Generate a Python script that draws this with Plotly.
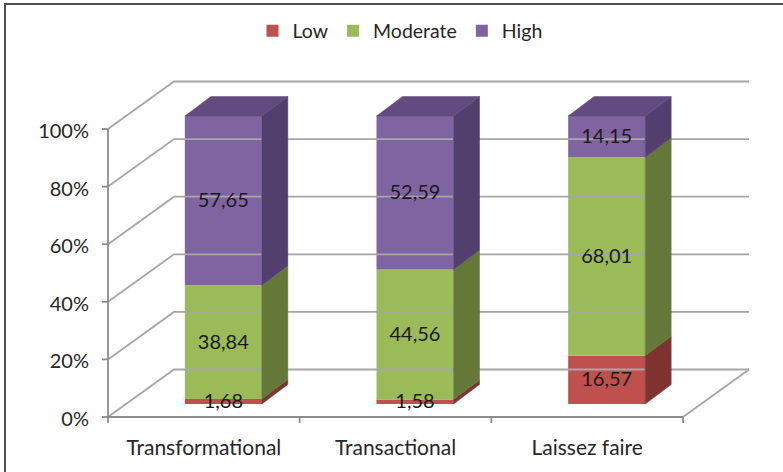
import plotly.graph_objects as go

categories = ["Transformational", "Transactional", "Laissez faire"]
series_names = ["Low", "Moderate", "High"]
low = [1.68, 1.58, 16.57]
moderate = [38.84, 44.56, 68.01]
high = [57.65, 52.59, 14.15]
tick_labels = ["0%", "20%", "40%", "60%", "80%", "100%"]
tick_values = [0, 20, 40, 60, 80, 100]

front = ["#C0504D", "#9BBB59", "#8064A2"]
side = ["#7F3331", "#64783A", "#533F6D"]
top = ["#7F3331", "#64783A", "#634B7F"]
grid = "#A6A6A6"
axis_col = "#8C8C8C"
FONT = "Lato"

W, H = 783, 472
L, R, B, T = 108, 749, 417, 82
PAD = 10  # room around the floor and walls so that the tick marks are not clipped
CAT_PX = (683 - 108) / 3
PX_Y = 288 / 100
DEPTH_X = (R - 683) / CAT_PX      # wall depth in category units
DEPTH_Y = (B - 369.5) / PX_Y      # wall depth in value units
BAR_OFF_X, BAR_OFF_Y = 19.5 / CAT_PX, 13 / PX_Y  # bar front plane
BAR_DX, BAR_DY = 26 / CAT_PX, 19.5 / PX_Y        # bar depth
BAR_W = 77 / CAT_PX
LABEL_NUDGE = 1.5 / PX_Y
TICK_NUDGE = 2 / PX_Y

fig = go.Figure()


def line(xs, ys, color=grid, width=1.8):
    fig.add_trace(go.Scatter(x=xs, y=ys, mode="lines", showlegend=False, hoverinfo="skip",
                             line=dict(color=color, width=width)))


def poly(xs, ys, color):
    fig.add_trace(go.Scatter(x=xs + xs[:1], y=ys + ys[:1], mode="lines", fill="toself",
                             fillcolor=color, line=dict(color=color, width=0.5),
                             showlegend=False, hoverinfo="skip"))


# walls and floor
for v in tick_values:
    line([0, DEPTH_X, DEPTH_X + 3], [v, v + DEPTH_Y, v + DEPTH_Y])
line([3, 3 + DEPTH_X], [0, DEPTH_Y])

# value axis and category axis with ticks
line([0, 0], [0, 100], axis_col)
line([0, 3], [0, 0], axis_col)
for v in tick_values:
    line([-6 / CAT_PX, 0], [v, v], axis_col)
for i in range(4):
    line([i, i], [0, -6 / PX_Y], axis_col)

columns = [low, moderate, high]
centers = [i + 0.5 + BAR_OFF_X for i in range(3)]
totals = [sum(col[c] for col in columns) for c in range(3)]
shares = [[col[c] / totals[c] * 100 for c in range(3)] for col in columns]
bases = [[BAR_OFF_Y + sum(shares[j][c] for j in range(s)) for c in range(3)] for s in range(3)]

# side and top faces
for c, cx in enumerate(centers):
    x0, x1 = cx - BAR_W / 2, cx + BAR_W / 2
    for s in range(3):
        y0 = bases[s][c]
        y1 = y0 + shares[s][c]
        poly([x1, x1 + BAR_DX, x1 + BAR_DX, x1],
             [y0, y0 + BAR_DY, y1 + BAR_DY, y1], side[s])
    yt = BAR_OFF_Y + 100
    poly([x0, x0 + BAR_DX, x1 + BAR_DX, x1], [yt, yt + BAR_DY, yt + BAR_DY, yt], top[2])

# front faces
for s, name in enumerate(series_names):
    fig.add_trace(go.Bar(x=centers, y=shares[s], base=bases[s], name=name, width=BAR_W,
                         marker=dict(color=front[s], line=dict(width=0)), hoverinfo="skip"))

# data labels
for s, col in enumerate(columns):
    fig.add_trace(go.Scatter(
        x=centers, y=[bases[s][c] + shares[s][c] / 2 - LABEL_NUDGE for c in range(3)],
        mode="text", text=[f"{v:.2f}".replace(".", ",") for v in col],
        showlegend=False, hoverinfo="skip",
        textfont=dict(size=20, color="#1a1a1a", family=FONT)))

fig.update_layout(
    width=W, height=H, barmode="overlay", autosize=False,
    paper_bgcolor="white", plot_bgcolor="rgba(0,0,0,0)",
    margin=dict(l=0, r=0, t=0, b=0, autoexpand=False),
    font=dict(family=FONT, size=20, color="#262626"),
    legend=dict(orientation="h", x=(400 / W), xanchor="center", y=1 - 31 / H, yanchor="middle",
                font=dict(size=19.5), itemwidth=30, traceorder="normal", bgcolor="rgba(0,0,0,0)"),
    shapes=[dict(type="rect", xref="paper", yref="paper", x0=5 / W, x1=1.1, y0=-0.1, y1=1 - 4 / H,
                 line=dict(color="#505050", width=2), fillcolor="rgba(0,0,0,0)", layer="below")],
)
fig.update_xaxes(domain=[(L - PAD) / W, (R + PAD) / W],
                 range=[-PAD / CAT_PX, (R - L + PAD) / CAT_PX],
                 showgrid=False, zeroline=False, showline=False,
                 ticks="", tickmode="array", tickvals=[0.5, 1.5, 2.5], ticktext=categories,
                 ticklabelstandoff=6, tickfont=dict(size=21))
fig.update_yaxes(domain=[(H - B - PAD) / H, (H - T + PAD) / H],
                 range=[-PAD / PX_Y, (B - T + PAD) / PX_Y],
                 showgrid=False, zeroline=False, showline=False,
                 ticks="", tickmode="array", tickvals=[v - TICK_NUDGE for v in tick_values], ticktext=tick_labels,
                 ticklabelstandoff=8, tickfont=dict(size=20))
fig.update_traces(cliponaxis=False)
fig.write_html("out.html", post_script="document.body.style.margin='0';",
               config={"displayModeBar": False})
